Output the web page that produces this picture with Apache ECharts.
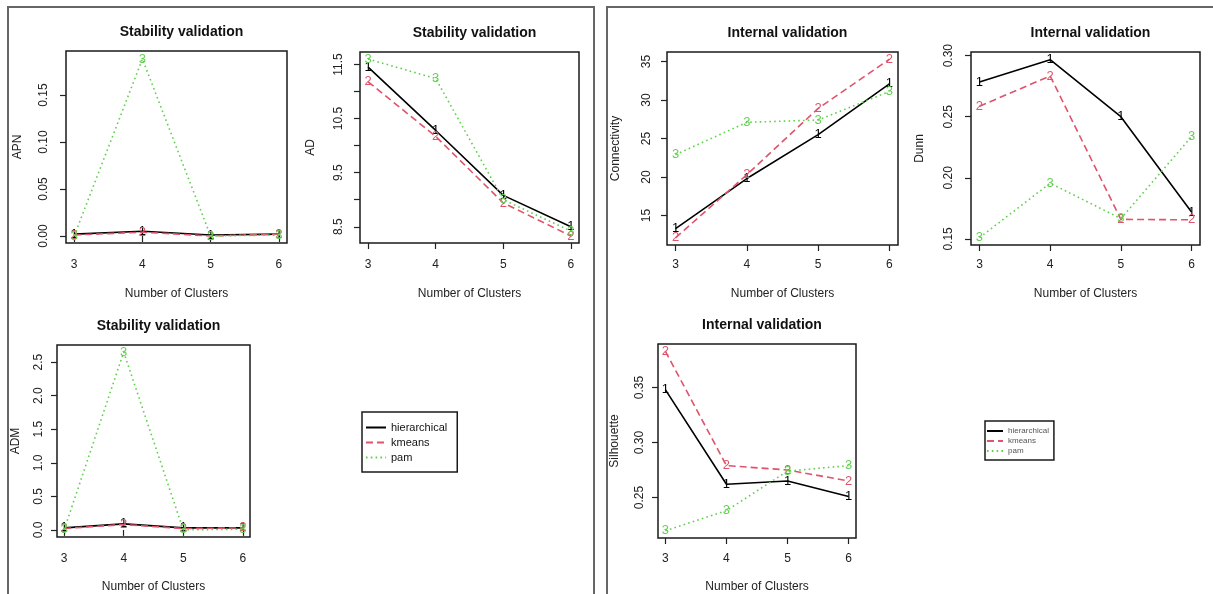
<!DOCTYPE html>
<html>
<head>
<meta charset="utf-8">
<script src="https://cdn.jsdelivr.net/npm/echarts@6/dist/echarts.min.js"></script>
<style>html,body{margin:0;padding:0;background:#fff}#c{width:1213px;height:594px}</style>
</head>
<body>
<div id="c"></div>
<script>
// ---- data ----
const clusters = [3, 4, 5, 6];
const methods = ['hierarchical', 'kmeans', 'pam'];
const pointDigits = ['1', '2', '3'];

const apnHier = [0.002, 0.005, 0.001, 0.002];
const apnKmeans = [0.001, 0.004, 0.000, 0.002];
const apnPam = [0.000, 0.1885, 0.000, 0.001];

const adHier = [11.45, 10.28, 9.08, 8.50];
const adKmeans = [11.18, 10.17, 8.94, 8.33];
const adPam = [11.60, 11.24, 9.00, 8.42];

const admHier = [0.03, 0.09, 0.03, 0.03];
const admKmeans = [0.02, 0.08, 0.02, 0.03];
const admPam = [0.00, 2.65, 0.00, 0.01];

const connHier = [13.3, 19.8, 25.5, 32.1];
const connKmeans = [12.1, 20.3, 28.9, 35.3];
const connPam = [22.9, 27.1, 27.4, 31.1];

const dunnHier = [0.2785, 0.2967, 0.2500, 0.1720];
const dunnKmeans = [0.2586, 0.2834, 0.1660, 0.1656];
const dunnPam = [0.1510, 0.1956, 0.1666, 0.2337];

const silHier = [0.348, 0.262, 0.265, 0.251];
const silKmeans = [0.383, 0.279, 0.275, 0.265];
const silPam = [0.2197, 0.238, 0.274, 0.279];

const apnTicks = [0, 0.05, 0.10, 0.15];
const adTicks = [8.5, 9.0, 9.5, 10.0, 10.5, 11.0, 11.5];
const adLabels = [8.5, 9.5, 10.5, 11.5];
const admTicks = [0, 0.5, 1.0, 1.5, 2.0, 2.5];
const connTicks = [15, 20, 25, 30, 35];
const dunnTicks = [0.15, 0.20, 0.25, 0.30];
const silTicks = [0.25, 0.30, 0.35];

const stabilityTitle = 'Stability validation';
const internalTitle = 'Internal validation';
const xName = 'Number of Clusters';

// ---- styling / layout ----
const FONT = 'Liberation Sans, Arial, Helvetica, sans-serif';
const colors = ['#000000', '#DF536B', '#61D04F'];
const lineTypes = ['solid', [7, 4], [1.6, 3.2]];

const panels = [
  {title: stabilityTitle, yName: 'APN', series: [apnHier, apnKmeans, apnPam], ticks: apnTicks, labels: apnTicks, dec: 2,
   box: [66, 51, 221, 192], yr: [-0.0075, 0.197], yGap: 42, xGap: 45, xm: 16, ym: 16},
  {title: stabilityTitle, yName: 'AD', series: [adHier, adKmeans, adPam], ticks: adTicks, labels: adLabels, dec: 1,
   box: [360, 52, 219, 191], yr: [8.20, 11.73], yGap: 43, xGap: 45, xm: 16, ym: 15},
  {title: stabilityTitle, yName: 'ADM', series: [admHier, admKmeans, admPam], ticks: admTicks, labels: admTicks, dec: 1,
   box: [57, 345, 193, 192], yr: [-0.106, 2.756], yGap: 35, xGap: 44, xm: 16, ym: 12},
  {title: internalTitle, yName: 'Connectivity', series: [connHier, connKmeans, connPam], ticks: connTicks, labels: connTicks, dec: 0,
   box: [667, 52, 231, 193], yr: [11.17, 36.23], yGap: 45, xGap: 43, xm: 14, ym: 14},
  {title: internalTitle, yName: 'Dunn', series: [dunnHier, dunnKmeans, dunnPam], ticks: dunnTicks, labels: dunnTicks, dec: 2,
   box: [971, 52, 229, 193], yr: [0.1450, 0.3030], yGap: 45, xGap: 43, xm: 14, ym: 16},
  {title: internalTitle, yName: 'Silhouette', series: [silHier, silKmeans, silPam], ticks: silTicks, labels: silTicks, dec: 2,
   box: [658, 344, 198, 194], yr: [0.2132, 0.3895], yGap: 37, xGap: 43, xm: 15, ym: 12}
];

const grid = [], xAxis = [], yAxis = [], series = [], title = [];
panels.forEach((p, i) => {
  const [l, t, w, h] = p.box;
  grid.push({left: l, top: t, width: w, height: h, show: true, borderColor: '#1a1a1a', borderWidth: 1.5, backgroundColor: 'transparent'});
  title.push({text: p.title, left: l + w / 2, top: t - 31, textAlign: 'center',
    textStyle: {fontFamily: FONT, fontSize: 14, fontWeight: 'bold', color: '#111'}});
  xAxis.push({type: 'value', gridIndex: i, min: 2.88, max: 6.12,
    name: xName, nameLocation: 'middle', nameGap: p.xGap,
    nameTextStyle: {fontFamily: FONT, fontSize: 12, color: '#222'},
    axisLine: {show: false}, splitLine: {show: false},
    axisTick: {show: true, length: 6, customValues: clusters, lineStyle: {color: '#222', width: 1.2}},
    axisLabel: {customValues: clusters, margin: p.xm, fontFamily: FONT, fontSize: 12, color: '#222', formatter: v => String(v)}});
  yAxis.push({type: 'value', gridIndex: i, min: p.yr[0], max: p.yr[1],
    name: p.yName, nameLocation: 'middle', nameGap: p.yGap,
    nameTextStyle: {fontFamily: FONT, fontSize: 12, color: '#222'},
    axisLine: {show: false}, splitLine: {show: false},
    axisTick: {show: true, length: 6, customValues: p.ticks, lineStyle: {color: '#222', width: 1.2}},
    axisLabel: {customValues: p.labels, rotate: 90, margin: p.ym, fontFamily: FONT, fontSize: 12, color: '#222',
      formatter: v => Number(v).toFixed(p.dec)}});
  p.series.forEach((vals, k) => {
    series.push({
      type: 'line', name: methods[k], xAxisIndex: i, yAxisIndex: i,
      data: clusters.map((c, j) => [c, vals[j]]),
      symbol: 'circle', symbolSize: 1,
      itemStyle: {color: 'rgba(0,0,0,0)'},
      lineStyle: {color: colors[k], width: 1.6, type: lineTypes[k]},
      label: {show: true, position: 'inside', formatter: pointDigits[k], color: colors[k],
        fontFamily: FONT, fontSize: 13},
      emphasis: {disabled: true}, silent: true, z: 2 + k
    });
  });
});

const chart = echarts.init(document.getElementById('c'), null, {renderer: 'canvas'});
chart.setOption({
  animation: false,
  backgroundColor: '#fff',
  title, grid, xAxis, yAxis, series,
  legend: [
    {data: methods, orient: 'vertical', left: 362, top: 412, padding: [10, 10, 9, 3],
     itemWidth: 20, itemHeight: 10, itemGap: 4, borderColor: '#1a1a1a', borderWidth: 1.5,
     textStyle: {fontFamily: FONT, fontSize: 11, color: '#111'}, selectedMode: false},
    {data: methods, orient: 'vertical', left: 985, top: 421, padding: [6, 5, 5, 1],
     itemWidth: 16, itemHeight: 8, itemGap: 2, borderColor: '#1a1a1a', borderWidth: 1.5,
     textStyle: {fontFamily: FONT, fontSize: 8, color: '#555'}, selectedMode: false}
  ],
  graphic: [
    {type: 'rect', shape: {x: 8, y: 7, width: 586, height: 620}, style: {fill: 'none', stroke: '#666', lineWidth: 2}, silent: true},
    {type: 'rect', shape: {x: 607, y: 7, width: 640, height: 620}, style: {fill: 'none', stroke: '#666', lineWidth: 2}, silent: true}
  ]
});
</script>
</body>
</html>
